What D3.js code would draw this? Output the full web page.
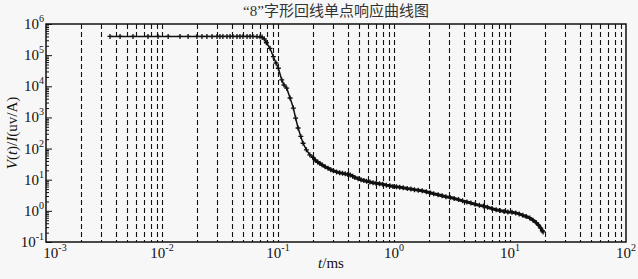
<!DOCTYPE html>
<html>
<head>
<meta charset="utf-8">
<script src="https://cdn.jsdelivr.net/npm/d3@7"></script>
<style>
  body { margin: 0; background: #f7f7f7; }
  svg { display: block; }
</style>
</head>
<body>
<svg id="chart"></svg>
<script>
// Data: time (ms) and normalised response V(t)/I (uv/A)
const tMs = [
  0.00356, 0.00435, 0.00562, 0.00757, 0.00924, 0.0113, 0.0143, 0.0168, 0.0200, 0.0221,
  0.0244, 0.0270, 0.0298, 0.0316, 0.0335, 0.0363, 0.0386, 0.0409, 0.0443, 0.0470,
  0.0499, 0.0541, 0.0574, 0.0608, 0.0659, 0.0700, 0.0729, 0.0762, 0.0794, 0.0853,
  0.0912, 0.0962, 0.1007, 0.1077, 0.1127, 0.1189, 0.1271, 0.1357, 0.1418, 0.1490,
  0.1573, 0.1645, 0.1758, 0.188,
  0.20, 0.21, 0.22, 0.23, 0.24, 0.255, 0.27, 0.285, 0.30, 0.32,
  0.34, 0.36, 0.38, 0.40, 0.42, 0.44, 0.46, 0.49, 0.52, 0.55,
  0.58, 0.62, 0.66, 0.70, 0.75, 0.80, 0.86, 0.92, 0.98, 1.05,
  1.12, 1.20, 1.30, 1.40, 1.50, 1.62, 1.75, 1.90, 2.05, 2.20,
  2.40, 2.60, 2.80, 3.05, 3.30, 3.60, 3.90, 4.25, 4.60, 5.00,
  5.45, 5.90, 6.40, 7.00, 7.60, 8.20, 8.90, 9.60, 10.4, 11.2,
  12.0, 12.9, 13.8, 14.8, 15.8, 16.8, 17.6, 18.4, 19.0, 19.3
];
const vResp = [
  4.0e5, 4.0e5, 4.0e5, 4.0e5, 4.0e5, 4.0e5, 4.0e5, 4.0e5, 4.0e5, 4.0e5,
  4.0e5, 4.0e5, 4.0e5, 4.0e5, 4.0e5, 4.0e5, 4.0e5, 4.0e5, 4.0e5, 4.0e5,
  4.0e5, 4.0e5, 4.0e5, 4.0e5, 3.95e5, 3.9e5, 3.8e5, 3.3e5, 2.5e5, 1.66e5,
  8.9e4, 5.6e4, 3.8e4, 1.6e4, 1.1e4, 8.7e3, 4.2e3, 2.0e3, 955, 457,
  245, 148, 91, 63,
  52, 42, 37, 33, 30, 26, 23.5, 21, 19.5, 17.8,
  16.8, 16.0, 15.4, 14.8, 14.2, 13.0, 11.8, 10.8, 10.0, 9.4,
  8.9, 8.4, 8.0, 7.7, 7.4, 7.1, 6.7, 6.4, 6.1, 5.9,
  5.7, 5.5, 5.2, 5.0, 4.8, 4.6, 4.4, 4.1, 3.8, 3.55,
  3.3, 3.05, 2.85, 2.7, 2.5, 2.3, 2.1, 1.92, 1.78, 1.62,
  1.50, 1.42, 1.30, 1.18, 1.08, 1.02, 0.96, 0.92, 0.90, 0.86,
  0.80, 0.72, 0.66, 0.59, 0.50, 0.42, 0.35, 0.28, 0.23, 0.21
];
const xTickExps = [-3, -2, -1, 0, 1, 2];
const yTickExps = [-1, 0, 1, 2, 3, 4, 5, 6];
const titleText = "\u201c8\u201d字形回线单点响应曲线图";

const serif = "'Liberation Serif', 'Times New Roman', serif";
const width = 638, height = 279;
const margin = { top: 24, right: 12, bottom: 37, left: 46 };

const svg = d3.select("#chart")
  .attr("width", width)
  .attr("height", height);

svg.append("rect").attr("width", width).attr("height", height).attr("fill", "#f7f7f7");

const x = d3.scaleLog()
  .domain([Math.pow(10, xTickExps[0]), Math.pow(10, xTickExps[xTickExps.length - 1])])
  .range([margin.left, width - margin.right]);
const y = d3.scaleLog()
  .domain([Math.pow(10, yTickExps[0]), Math.pow(10, yTickExps[yTickExps.length - 1])])
  .range([height - margin.bottom, margin.top]);

const data = tMs.map((t, i) => ({ t: t, v: vResp[i] }));

// dashed vertical grid at every log tick
const gridVals = x.ticks().filter(d => d > x.domain()[0] * 1.001 && d < x.domain()[1] * 0.999);
svg.append("g").attr("class", "grid")
  .selectAll("line")
  .data(gridVals)
  .join("line")
  .attr("x1", d => Math.round(x(d)) + 0.5)
  .attr("x2", d => Math.round(x(d)) + 0.5)
  .attr("y1", y.range()[1])
  .attr("y2", y.range()[0])
  .attr("stroke", "#111")
  .attr("stroke-width", 1.1)
  .attr("stroke-dasharray", "5,3");

// left axis with inward ticks
const yAxis = svg.append("g")
  .attr("transform", `translate(${margin.left},0)`)
  .call(d3.axisLeft(y).ticks(10).tickFormat("").tickSizeInner(-3).tickSizeOuter(0));
yAxis.select(".domain").remove();
yAxis.selectAll(".tick line")
  .attr("stroke", "#111")
  .attr("x2", d => Math.abs(Math.log10(d) - Math.round(Math.log10(d))) < 1e-6 ? 6 : 3);

// frame
svg.append("rect")
  .attr("x", margin.left)
  .attr("y", margin.top)
  .attr("width", x.range()[1] - x.range()[0])
  .attr("height", y.range()[0] - y.range()[1])
  .attr("fill", "none")
  .attr("stroke", "#111")
  .attr("stroke-width", 1.5);

// y tick labels
const yLab = svg.append("g").selectAll("text")
  .data(yTickExps)
  .join("text")
  .attr("x", margin.left - 2)
  .attr("y", d => y(Math.pow(10, d)) + 5)
  .attr("text-anchor", "end")
  .attr("fill", "#111")
  .style("font-family", serif)
  .style("font-size", "15px");
yLab.append("tspan").text("10");
yLab.append("tspan").attr("dy", -7).style("font-size", "10px").text(d => d);

// x tick labels
const xLab = svg.append("g").selectAll("text")
  .data(xTickExps)
  .join("text")
  .attr("x", (d, i) => x(Math.pow(10, d)) + (i === 0 ? 9 : 0))
  .attr("y", height - margin.bottom + 16)
  .attr("text-anchor", "middle")
  .attr("fill", "#111")
  .style("font-family", serif)
  .style("font-size", "15px");
xLab.append("tspan").text("10");
xLab.append("tspan").attr("dy", -7).style("font-size", "10px").text(d => d);

// curve
const line = d3.line().x(d => x(d.t)).y(d => y(d.v));
svg.append("path")
  .datum(data)
  .attr("d", line)
  .attr("fill", "none")
  .attr("stroke", "#111")
  .attr("stroke-width", 1.5);

// late-time part is densely sampled: thick band in the original
svg.append("path")
  .datum(data.filter(d => d.t >= 0.2))
  .attr("d", line)
  .attr("fill", "none")
  .attr("stroke", "#111")
  .attr("stroke-width", 3);

// + markers
svg.append("g").selectAll("path")
  .data(data)
  .join("path")
  .attr("d", d => {
    const px = x(d.t), py = y(d.v), s = 2.5;
    return `M${px - s},${py}H${px + s}M${px},${py - s}V${py + s}`;
  })
  .attr("stroke", "#111")
  .attr("stroke-width", 1.3);

// title
svg.append("text")
  .attr("x", (x.range()[0] + x.range()[1]) / 2)
  .attr("y", 16)
  .attr("text-anchor", "middle")
  .attr("fill", "#333")
  .style("font-family", "'Liberation Serif', 'Noto Sans CJK SC', serif")
  .style("font-size", "15px")
  .text(titleText);

// x axis label
const xt = svg.append("text")
  .attr("x", (x.range()[0] + x.range()[1]) / 2 - 5)
  .attr("y", 268)
  .attr("text-anchor", "middle")
  .attr("fill", "#111")
  .style("font-family", serif)
  .style("font-size", "15px");
xt.append("tspan").style("font-style", "italic").text("t");
xt.append("tspan").text("/ms");

// y axis label
const yt = svg.append("text")
  .attr("transform", `translate(17,${(y.range()[0] + y.range()[1]) / 2}) rotate(-90)`)
  .attr("text-anchor", "middle")
  .attr("fill", "#111")
  .style("font-family", serif)
  .style("font-size", "15px");
yt.append("tspan").style("font-style", "italic").text("V");
yt.append("tspan").text("(");
yt.append("tspan").style("font-style", "italic").text("t");
yt.append("tspan").text(")/");
yt.append("tspan").style("font-style", "italic").text("I");
yt.append("tspan").text("(uv/A)");
</script>
</body>
</html>
